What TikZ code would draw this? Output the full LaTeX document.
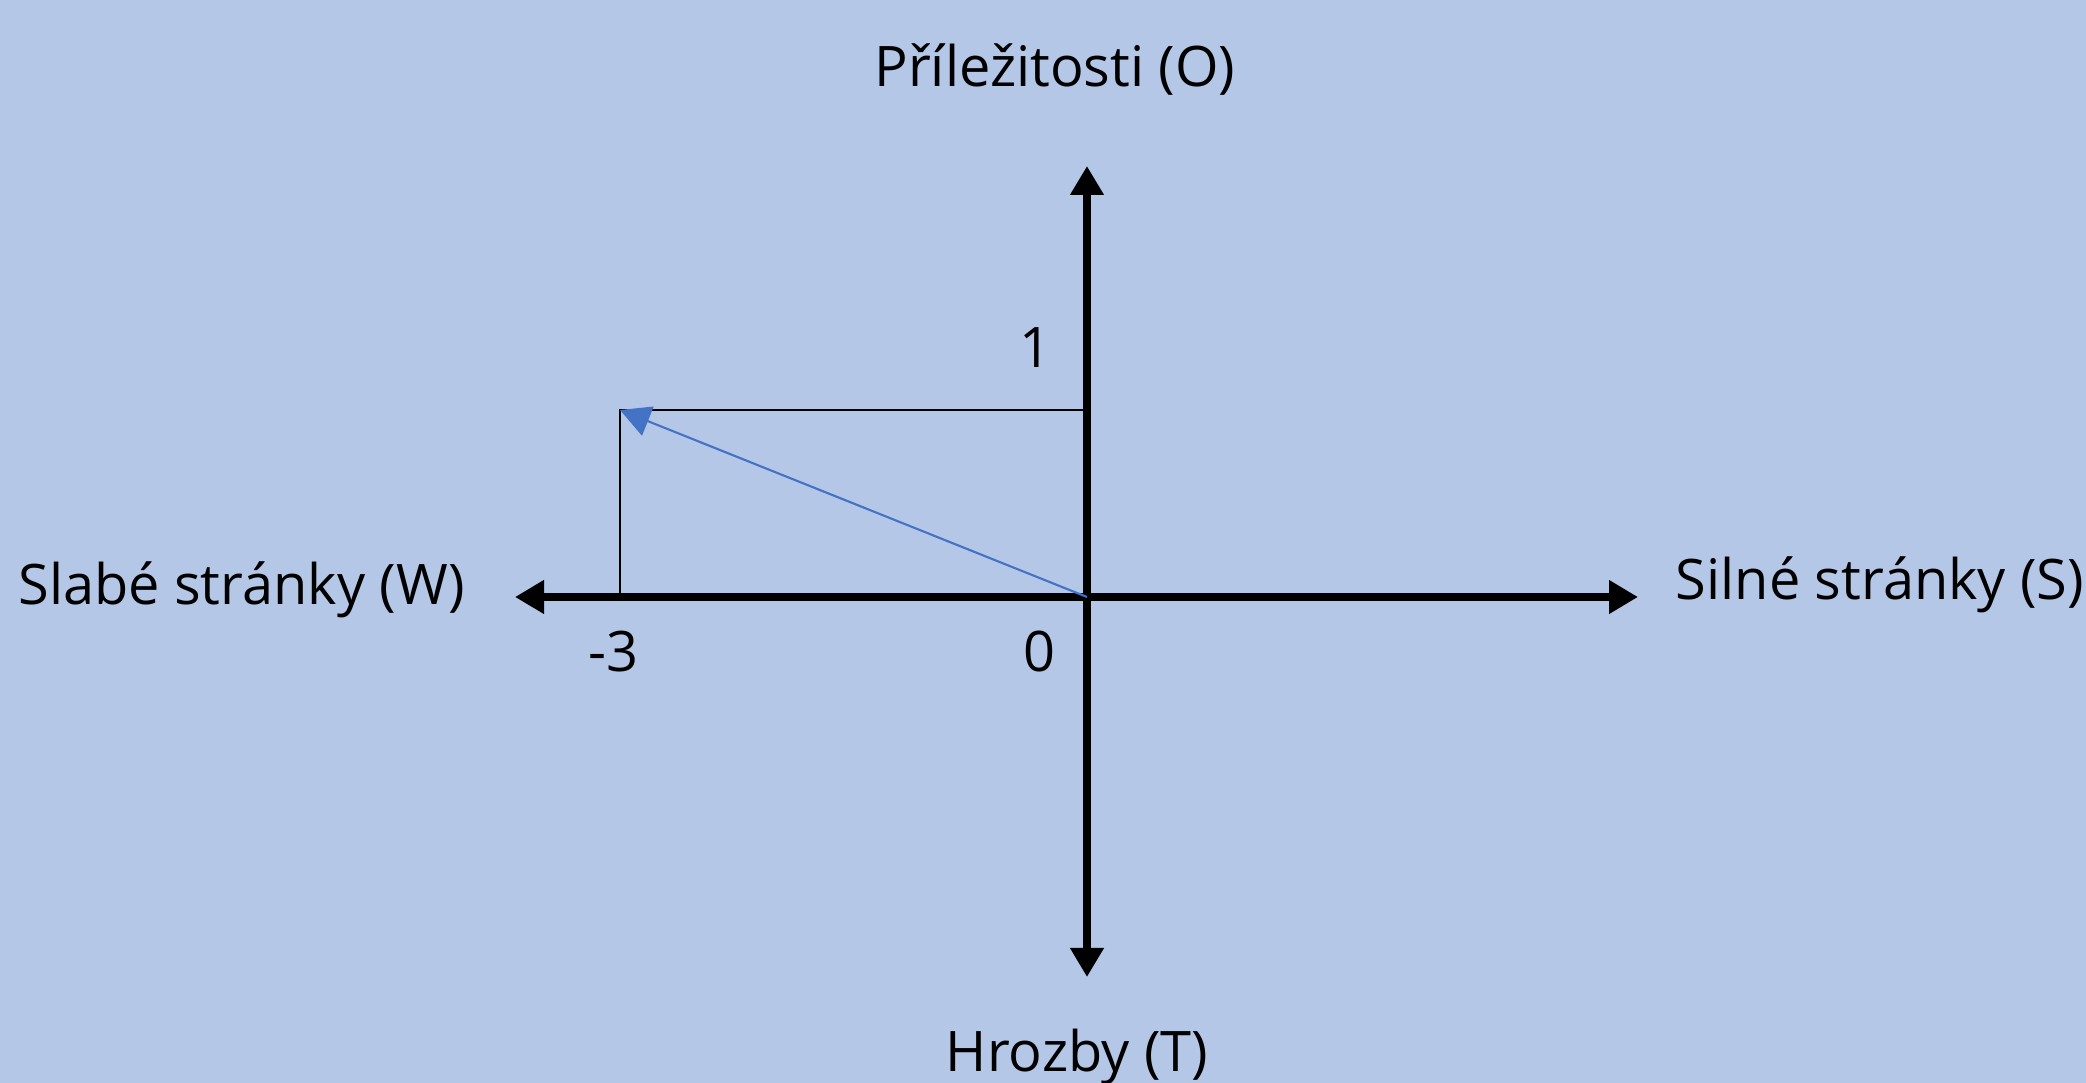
\documentclass[tikz,border=0pt]{standalone}
\usepackage{fontspec}
\setmainfont{Open Sans}
\usepackage{xcolor}
\usepackage{tikz}
\usetikzlibrary{arrows.meta,positioning}
\definecolor{swotbg}{RGB}{180,199,231}
\definecolor{vectorblue}{RGB}{68,114,196}

\begin{document}
\begin{tikzpicture}[
    axis/.style={line width=0.085cm, {Triangle[length=0.29cm,width=0.32cm]}-{Triangle[length=0.29cm,width=0.32cm]}},
    guide/.style={line width=0.6pt},
    vector/.style={vectorblue, line width=0.6pt, -{Triangle[length=0.3cm,width=0.31cm]}},
    lbl/.style={font=\fontsize{15.9}{19}\selectfont, inner sep=0pt, anchor=base}
]

% Background
\fill[swotbg] (0,0) rectangle (20.86,10.83);
\useasboundingbox (0,0) rectangle (20.86,10.83);

% Axis ends
\coordinate (origin) at (10.87,4.86);
\coordinate (west) at (5.15,4.86);
\coordinate (east) at (16.38,4.86);
\coordinate (north) at (10.87,9.17);
\coordinate (south) at (10.87,1.06);

% Strategy point
\coordinate (pt) at (6.20,6.73);
\coordinate (ptO) at (origin |- pt);
\coordinate (ptW) at (pt |- origin);

% Axes
\draw[axis] (west) -- (east);
\draw[axis] (south) -- (north);

% Guides and vector
\draw[guide] (ptO) -- (pt) -- (ptW);
\draw[vector] (origin) -- (pt);

% Labels
\node[lbl] (opp) at (10.55,9.96) {Příležitosti (O)};
\node[lbl] (thr) at (10.77,0.11) {Hrozby (T)};
\node[lbl] (weak) at (2.415,4.78) {Slabé stránky (W)};
\node[lbl] (str) at (18.80,4.83) {Silné stránky (S)};
\node[lbl] (one) at (10.355,7.15) {1};
\node[lbl] (zero) at (10.39,4.11) {0};
\node[lbl] (minus) at (6.13,4.11) {-3};

\end{tikzpicture}
\end{document}
